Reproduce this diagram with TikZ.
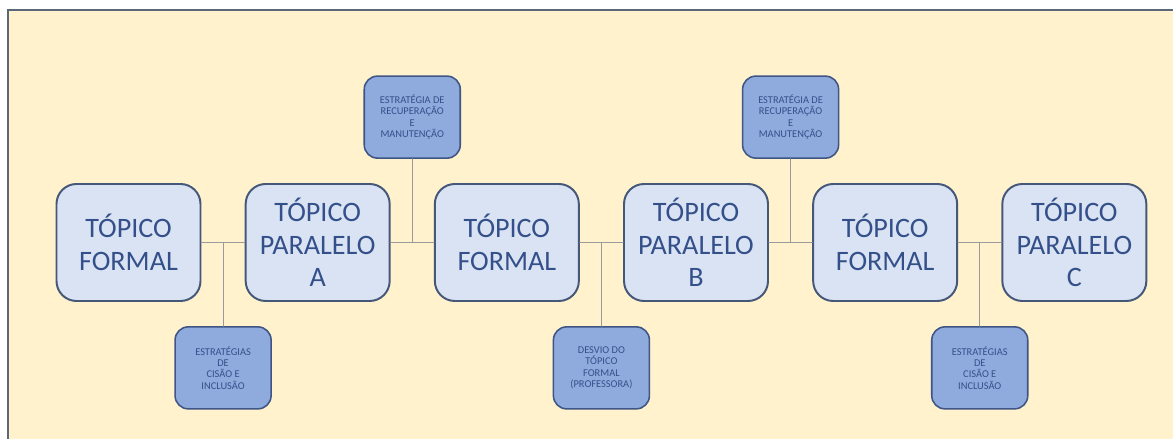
\documentclass[tikz,border=0pt]{standalone}
\usepackage{fontspec}
\setmainfont{Carlito}
\usepackage{tikz}
\usetikzlibrary{positioning,calc}
\usepackage{xcolor}

\definecolor{paper}{HTML}{FFF2CC}
\definecolor{framegray}{HTML}{5B6878}
\definecolor{topicfill}{HTML}{DAE3F3}
\definecolor{topicline}{HTML}{46587A}
\definecolor{stratfill}{HTML}{8FAADC}
\definecolor{stratline}{HTML}{3E5585}
\definecolor{inkblue}{HTML}{34508A}
\definecolor{linkgray}{HTML}{9A9A9A}

\begin{document}
\begin{tikzpicture}[font=\fontsize{20}{23}\selectfont,line cap=round,
  topic/.style={draw=topicline,line width=1.4pt,fill=topicfill,rounded corners=0.5cm,
    minimum width=3.6cm,minimum height=2.925cm,align=center,text=inkblue,inner sep=0pt},
  strat/.style={draw=stratline,line width=1.1pt,fill=stratfill,rounded corners=0.33cm,
    minimum width=2.4cm,minimum height=2.05cm,align=center,text=inkblue,inner sep=0pt,
    font=\fontsize{7.4}{8}\selectfont},
  link/.style={draw=linkgray,line width=0.8pt},
  node distance=1.08cm]
\useasboundingbox (0,0) rectangle (29.325,10.975);
% fundo e moldura
\fill[paper] (0.2,0) rectangle (29.325,10.725);
\draw[framegray,line width=1.2pt] (0.2,0) -- (0.2,10.725) -- (29.325,10.725);

% topicos
\node[topic] (tf1) at (3.2125,4.9125) {TÓPICO\\FORMAL};
\node[topic,right=of tf1] (pa) {TÓPICO\\PARALELO\\A};
\node[topic,right=of pa] (tf2) {TÓPICO\\FORMAL};
\node[topic,right=of tf2] (pb) {TÓPICO\\PARALELO\\B};
\node[topic,right=of pb] (tf3) {TÓPICO\\FORMAL};
\node[topic,right=of tf3] (pc) {TÓPICO\\PARALELO\\C};

% pontos de juncao
\coordinate (j1) at ($(tf1.east)!0.5!(pa.west)$);
\coordinate (j2) at ($(pa.east)!0.5!(tf2.west)$);
\coordinate (j3) at ($(tf2.east)!0.5!(pb.west)$);
\coordinate (j4) at ($(pb.east)!0.5!(tf3.west)$);
\coordinate (j5) at ($(tf3.east)!0.5!(pc.west)$);

% estrategias
\node[strat,below=2.09cm of j1] (s1) {ESTRATÉGIAS\\DE\\CISÃO E\\INCLUSÃO};
\node[strat,above=2.09cm of j2] (s2) {ESTRATÉGIA DE\\RECUPERAÇÃO\\E\\MANUTENÇÃO};
\node[strat,below=2.09cm of j3] (s3) {DESVIO DO\\TÓPICO\\FORMAL\\(PROFESSORA)};
\node[strat,above=2.09cm of j4] (s4) {ESTRATÉGIA DE\\RECUPERAÇÃO\\E\\MANUTENÇÃO};
\node[strat,below=2.09cm of j5] (s5) {ESTRATÉGIAS\\DE\\CISÃO E\\INCLUSÃO};

% ligacoes
\draw[link] (tf1) -- (pa);
\draw[link] (pa) -- (tf2);
\draw[link] (tf2) -- (pb);
\draw[link] (pb) -- (tf3);
\draw[link] (tf3) -- (pc);
\draw[link] (j1) -- (s1);
\draw[link] (j2) -- (s2);
\draw[link] (j3) -- (s3);
\draw[link] (j4) -- (s4);
\draw[link] (j5) -- (s5);
\end{tikzpicture}
\end{document}
